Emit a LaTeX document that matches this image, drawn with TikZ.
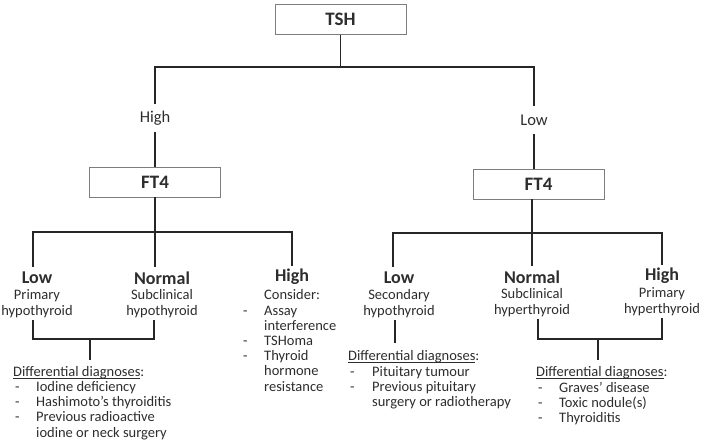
\documentclass[tikz,border=0pt]{standalone}
\usepackage{fontspec}
\setmainfont{Carlito}
\usetikzlibrary{positioning}
\definecolor{ink}{RGB}{45,45,45}
\definecolor{frame}{RGB}{125,125,125}
\newcommand{\ddxhead}{\multicolumn{2}{@{}l@{}}{\underline{\smash{Differential diagnoses}}:}}

\begin{document}
\begin{tikzpicture}[x=1pt, y=-1pt,
		box/.style={draw=frame, line width=0.9pt, minimum width=131pt, minimum height=30pt,
			inner sep=0pt, font=\fontsize{19}{22}\selectfont\bfseries, text=ink},
		conn/.style={line width=1.8pt, black!85},
		lvl/.style={inner sep=0pt, minimum height=27pt, font=\fontsize{16.5}{19}\selectfont, text=ink},
		res/.style={inner sep=0pt, minimum height=22pt, font=\fontsize{18}{20}\selectfont\bfseries, text=ink},
		sub/.style={inner sep=2pt, align=center, font=\fontsize{14.5}{16}\selectfont, text=ink},
		ddx/.style={inner sep=0pt, anchor=north west, font=\fontsize{14.5}{15.2}\selectfont, text=ink}]
		\useasboundingbox (0,0) rectangle (711,441);
		% first test
		\node[box] (tsh) at (340.5,19.5) {TSH};
		\node[lvl] (high) at (155,118) {High};
		\node[lvl] (low) at (534,120) {Low};
		\node[box] (ft4a) at (155,182) {FT4};
		\node[box] (ft4b) at (538.5,184) {FT4};
		\coordinate (top) at (340.5,67);
		\draw[conn] (tsh.south) -- (top);
		\draw[conn] (high.north) -- (high.north |- top) -- (low.north |- top) -- (low.north);
		\draw[conn] (high.south) -- (ft4a.north);
		\draw[conn] (low.south) -- (low.south |- ft4b.north);
		% outcomes
		\node[res] (lowA) at (37,278) {Low};
		\node[res] (normA) at (162,278) {Normal};
		\node[res] (highA) at (292,277) {High};
		\node[res] (lowB) at (399,278) {Low};
		\node[res] (normB) at (532,277) {Normal};
		\node[res] (highB) at (662,276) {High};
		\coordinate (aL) at (33,232);
		\coordinate (aR) at (292,232);
		\coordinate (bL) at (393,233);
		\coordinate (bR) at (662,233);
		\draw[conn] ([xshift=-4pt]lowA.north) -- (aL) -- (aR) -- (highA.north);
		\draw[conn] (ft4a.south) -- ([xshift=-7pt]normA.north);
		\draw[conn] ([xshift=-6pt]lowB.north) -- (bL) -- (bR) -- (highB.north);
		\draw[conn] ([xshift=-6.5pt]ft4b.south) -- (normB.north);
		% descriptions
		\node[sub] (dA) at (37,304) {Primary\\hypothyroid};
		\node[sub] (dB) at (162,304) {Subclinical\\hypothyroid};
		\node[sub] (dD) at (399,304) {Secondary\\hypothyroid};
		\node[sub] (dE) at (532,303) {Subclinical\\hyperthyroid};
		\node[sub] (dF) at (662,302) {Primary\\hyperthyroid};
		\node[ddx] (cons) at (243,289) {\begin{tabular}{@{}p{21pt}@{}l@{}}
			& Consider:\\
			- & Assay\\
			& interference\\
			- & TSHoma\\
			- & Thyroid\\
			& hormone\\
			& resistance
		\end{tabular}};
		% differential diagnoses
		\node[ddx] (ddA) at (13,365.5) {\begin{tabular}{@{}p{23pt}@{}l@{}}
			\ddxhead\\
			\hspace*{2pt}- & Iodine deficiency\\
			\hspace*{2pt}- & Hashimoto’s thyroiditis\\
			\hspace*{2pt}- & Previous radioactive\\
			& iodine or neck surgery
		\end{tabular}};
		\node[ddx] (ddD) at (348,350) {\begin{tabular}{@{}p{24pt}@{}l@{}}
			\ddxhead\\
			\hspace*{2pt}- & Pituitary tumour\\
			\hspace*{2pt}- & Previous pituitary\\
			& surgery or radiotherapy
		\end{tabular}};
		\node[ddx] (ddF) at (536,366) {\begin{tabular}{@{}p{23pt}@{}l@{}}
			\ddxhead\\
			\hspace*{2pt}- & Graves’ disease\\
			\hspace*{2pt}- & Toxic nodule(s)\\
			\hspace*{2pt}- & Thyroiditis
		\end{tabular}};
		\coordinate (jA) at (90,339);
		\coordinate (sA) at (90,360);
		\coordinate (sD) at (395,343);
		\coordinate (jF) at (598,339);
		\coordinate (sF) at (598,360);
		\draw[conn] ([xshift=-4pt]dA.south) |- (jA) -| ([xshift=-8pt]dB.south);
		\draw[conn] (jA) -- (sA);
		\draw[conn] ([xshift=-4pt]dD.south) -- (sD);
		\draw[conn] ([xshift=6pt]dE.south) |- (jF) -| (dF.south);
		\draw[conn] (jF) -- (sF);
	\end{tikzpicture}
\end{document}
